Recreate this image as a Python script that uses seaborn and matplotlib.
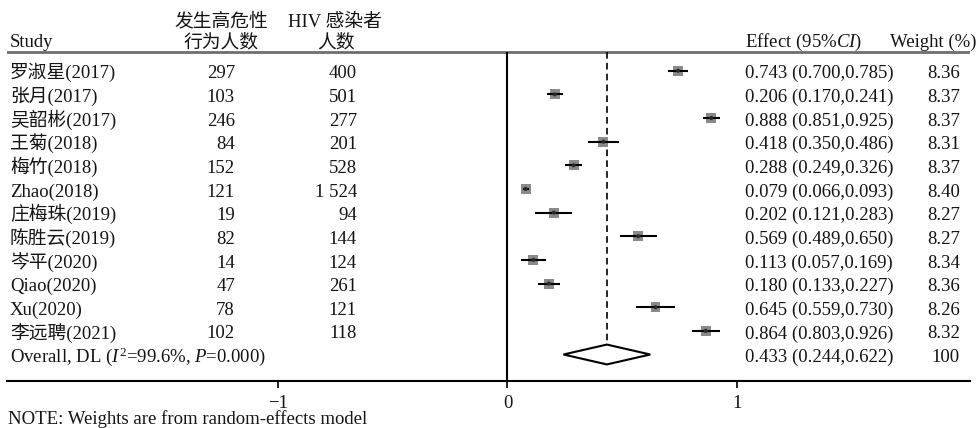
import numpy as np
import pandas as pd
import matplotlib
matplotlib.use("Agg")
import matplotlib.pyplot as plt
import seaborn as sns

# ---------------- data ----------------
studies = ["罗淑星(2017)", "张月(2017)", "吴韶彬(2017)", "王菊(2018)", "梅竹(2018)",
           "Zhao(2018)", "庄梅珠(2019)", "陈胜云(2019)", "岑平(2020)", "Qiao(2020)",
           "Xu(2020)", "李远聘(2021)"]
n_events = [297, 103, 246, 84, 152, 121, 19, 82, 14, 47, 78, 102]
n_total = [400, 501, 277, 201, 528, 1524, 94, 144, 124, 261, 121, 118]
effect = [0.743, 0.206, 0.888, 0.418, 0.288, 0.079, 0.202, 0.569, 0.113, 0.180, 0.645, 0.864]
ci_low = [0.700, 0.170, 0.851, 0.350, 0.249, 0.066, 0.121, 0.489, 0.057, 0.133, 0.559, 0.803]
ci_high = [0.785, 0.241, 0.925, 0.486, 0.326, 0.093, 0.283, 0.650, 0.169, 0.227, 0.730, 0.926]
weights = [8.36, 8.37, 8.37, 8.31, 8.37, 8.40, 8.27, 8.27, 8.34, 8.36, 8.26, 8.32]
overall_label = r"Overall, DL ($I^2$=99.6%, $P$=0.000)"
overall_est, overall_low, overall_high, overall_weight = 0.433, 0.244, 0.622, 100
xtick_values = [-1, 0, 1]
note_text = "NOTE: Weights are from random-effects model"

# ---------------- style ----------------
sns.set_theme(style="white")
plt.rcParams["font.family"] = ["Liberation Serif", "Noto Sans CJK SC", "DejaVu Sans"]
plt.rcParams["mathtext.fontset"] = "custom"
plt.rcParams["mathtext.rm"] = "Liberation Serif"
plt.rcParams["mathtext.it"] = "Liberation Serif:italic"
FS = 13.5
TXT = "#141414"

W, H = 977, 428
fig = plt.figure(figsize=(W / 100, H / 100), dpi=100)
left_px, right_px, axis_px = 7, 970, 381
ax = fig.add_axes([left_px / W, (H - axis_px) / H, (right_px - left_px) / W, axis_px / H])

# layout helpers (pixel -> data)
X0, XU = 507.5, 229.5
Y0, YU = 70.7, 23.65
def px2x(p):
    return (p - X0) / XU
def px2y(p):
    return (p - Y0) / YU

ax.set_xlim(px2x(left_px), px2x(right_px))
ax.set_ylim(px2y(axis_px), px2y(0))

df = pd.DataFrame({"study": studies, "events": n_events, "total": n_total,
                   "effect": effect, "low": ci_low, "high": ci_high, "weight": weights})
df["row"] = np.arange(len(df))
overall_row = len(df)

# CI lines, squares, centre dots
ax.hlines(df["row"], df["low"], df["high"], color="black", lw=1.5, zorder=4)
wmin, wmax = min(weights), max(weights)
sns.scatterplot(data=df, x="effect", y="row", size="weight", sizes=(wmin * 6.2, wmax * 6.2),
                size_norm=(wmin, wmax), marker="s", color="#8a8a8a", edgecolor="none",
                legend=False, ax=ax, zorder=3)
sns.scatterplot(data=df, x="effect", y="row", s=9, color="#2b2b2b", edgecolor="none",
                legend=False, ax=ax, zorder=5)

# overall diamond
dh = 0.42
ax.fill([overall_low, overall_est, overall_high, overall_est],
        [overall_row, overall_row - dh, overall_row, overall_row + dh],
        facecolor="white", edgecolor="black", lw=1.5, zorder=4)

# reference lines
header_y = px2y(52)
ax.axhline(header_y, color="#6e6e6e", lw=2, zorder=2)
ax.vlines(0, header_y, px2y(axis_px), color="black", lw=1.5, zorder=2)
ax.vlines(overall_est, header_y, overall_row + dh, color="black", lw=1.2,
          linestyles=(0, (4, 2.5)), zorder=2)

# axes styling
for s in ["top", "left", "right"]:
    ax.spines[s].set_visible(False)
ax.spines["bottom"].set_linewidth(1.5)
ax.spines["bottom"].set_color("black")
ax.set_yticks([])
ax.set_xticks(xtick_values)
ax.set_xticklabels(["\u2212" + str(abs(v)) if v < 0 else str(v) for v in xtick_values])
ax.tick_params(axis="x", direction="out", length=5, width=1.3, pad=5, labelsize=FS,
               colors=TXT, bottom=True)
ax.set_xlabel("")
ax.set_ylabel("")

# header texts (baseline aligned)
tk = dict(fontsize=FS, color=TXT, va="baseline", clip_on=False)
ax.text(px2x(10), px2y(47), "Study", ha="left", **tk)
ax.text(px2x(221), px2y(26.5), "发生高危性", ha="center", **tk)
ax.text(px2x(221), px2y(47), "行为人数", ha="center", **tk)
ax.text(px2x(335), px2y(26.5), "HIV 感染者", ha="center", **tk)
ax.text(px2x(336), px2y(47), "人数", ha="center", **tk)
ax.text(px2x(745), px2y(47), r"Effect (95$\mathit{\%CI}$)", ha="left", **tk)
ax.text(px2x(977), px2y(47), "Weight (%)", ha="right", **tk)

# row texts
bo = 7.6 / YU  # baseline offset below row centre
for _, r in df.iterrows():
    y = r["row"] + bo
    ax.text(px2x(10), y, r["study"], ha="left", **tk)
    ax.text(px2x(235), y, f"{int(r['events']):,}".replace(",", " "), ha="right", **tk)
    ax.text(px2x(357), y, f"{int(r['total']):,}".replace(",", " "), ha="right", **tk)
    ax.text(px2x(745), y, f"{r['effect']:.3f} ({r['low']:.3f},{r['high']:.3f})", ha="left", **tk)
    ax.text(px2x(960), y, f"{r['weight']:.2f}", ha="right", **tk)

y = overall_row + bo
ax.text(px2x(10), y, overall_label, ha="left", **tk)
ax.text(px2x(745), y, f"{overall_est:.3f} ({overall_low:.3f},{overall_high:.3f})", ha="left", **tk)
ax.text(px2x(960), y, f"{overall_weight}", ha="right", **tk)

ax.text(px2x(8), px2y(424), note_text, ha="left", **tk)

fig.savefig("out.png", dpi=100, facecolor="white")
